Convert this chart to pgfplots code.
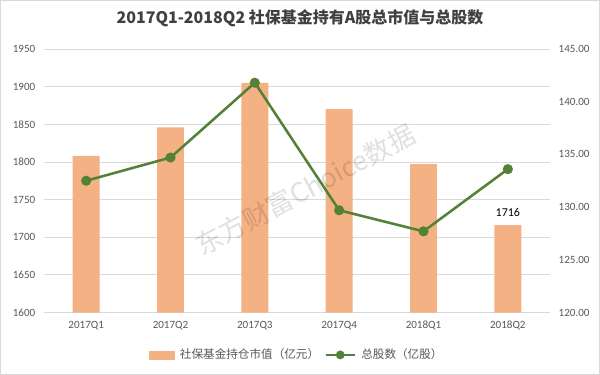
\documentclass[border=0pt]{standalone}
\usepackage{pgfplots}
\pgfplotsset{compat=1.18}
\usepackage{fontspec}
\setmainfont{Carlito}
\newfontfamily\cjk{Noto Sans CJK SC}
\definecolor{barc}{HTML}{F4B183}
\definecolor{linec}{HTML}{538135}
\definecolor{gridc}{HTML}{D9D9D9}
\definecolor{tickc}{HTML}{595959}
\definecolor{titlec}{HTML}{404040}
\begin{document}
\begin{tikzpicture}
\path[use as bounding box, fill=white] (0,0) rectangle (450pt,281.25pt);
\draw[gridc, line width=0.6pt] (0.3pt,0.3pt) rectangle (449.7pt,280.95pt);
\node[font=\cjk\bfseries\fontsize{12}{14}\selectfont, text=titlec] at (225pt,267.5pt) {2017Q1-2018Q2 社保基金持有A股总市值与总股数};
\begin{axis}[
  at={(33pt,46.875pt)}, anchor=south west,
  width=379.5pt, height=197.625pt, scale only axis,
  xmin=-0.5, xmax=5.5, ymin=1600, ymax=1950,
  ytick={1600,1650,...,1950},
  xtick={0,1,2,3,4,5},
  xticklabels={2017Q1,2017Q2,2017Q3,2017Q4,2018Q1,2018Q2},
  axis y line*=left, axis x line*=bottom,
  y axis line style={draw=none},
  x axis line style={draw=gridc, line width=0.8pt},
  major tick length=0pt,
  ymajorgrids, grid style={gridc, line width=0.6pt},
  tick label style={font=\fontsize{8.3}{10}\selectfont, text=tickc},
  /pgf/number format/assume math mode=true,
  /pgf/number format/1000 sep={},
  yticklabel style={xshift=-3pt},
  xticklabel style={yshift=-3pt},
  clip=false,
]
\addplot[ybar, bar width=0.32, fill=barc, draw=none] coordinates {
  (0,1808) (1,1846) (2,1905) (3,1870) (4,1797) (5,1716)};
\node[above, font=\fontsize{9}{11}\selectfont, text=black, yshift=3pt] at (axis cs:5,1716) {1716};
\end{axis}
\begin{axis}[
  at={(33pt,46.875pt)}, anchor=south west,
  width=379.5pt, height=197.625pt, scale only axis,
  xmin=-0.5, xmax=5.5, ymin=120, ymax=145,
  ytick={120,125,...,145},
  axis y line*=right, axis x line=none,
  y axis line style={draw=none},
  major tick length=0pt,
  tick label style={font=\fontsize{8.3}{10}\selectfont, text=tickc},
  /pgf/number format/assume math mode=true,
  /pgf/number format/.cd, fixed, fixed zerofill, precision=2, /pgfplots/.cd,
  yticklabel style={xshift=3pt},
  legend style={at={(0.5,-0.161)}, anchor=center, draw=none, fill=none,
    font=\cjk\fontsize{8.7}{10}\selectfont, text=tickc,
    legend columns=2, column sep=2pt},
  clip=false,
]
\addlegendimage{legend image code/.code={\fill[barc] (0pt,-3pt) rectangle (19pt,3pt);}}
\addlegendentry{社保基金持仓市值（亿元）}
\addplot[linec, line width=1.9pt, mark=*, mark size=2.8pt, mark options={fill=linec, draw=linec},
  legend image code/.code={\draw[linec, line width=1.6pt] (0pt,0pt) -- (22pt,0pt); \fill[linec] (11pt,0pt) circle (2.3pt);}]
  coordinates {(0,132.5) (1,134.7) (2,141.8) (3,129.7) (4,127.7) (5,133.6)};
\addlegendentry{总股数（亿股）}
\end{axis}
\node[rotate=28, font=\cjk\fontsize{20}{22}\selectfont, text=black, opacity=0.12] at (229pt,139pt) {东方财富Choice数据};
\end{tikzpicture}
\end{document}
